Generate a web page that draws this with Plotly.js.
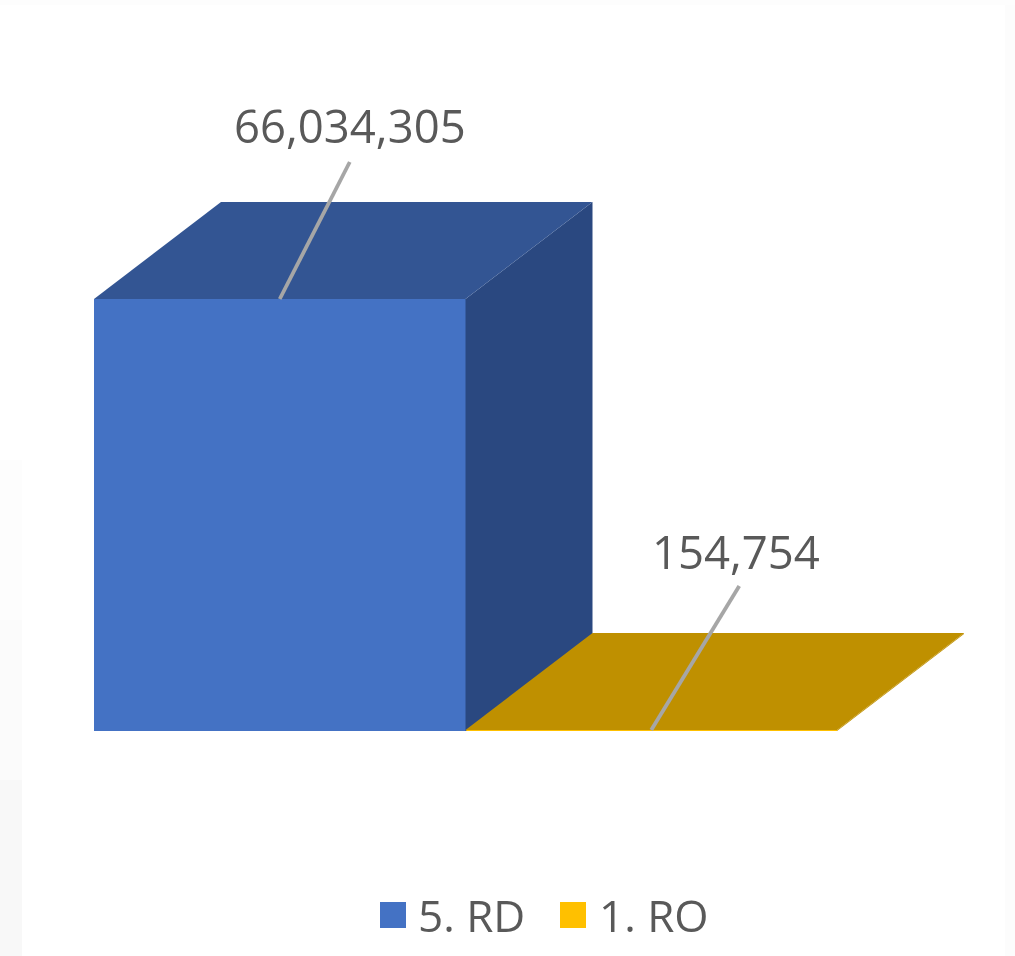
<!DOCTYPE html>
<html>
<head>
<meta charset="utf-8">
<script src="https://cdn.plot.ly/plotly-3.0.1.min.js"></script>
<style>
html,body{margin:0;padding:0;background:#fff;overflow:hidden}
#chart{width:1015px;height:956px;filter:blur(0.75px)}
</style>
</head>
<body>
<div id="chart"></div>
<script>
const categories = ["5. RD", "1. RO"];
const values = [66034305, 154754];
const valueLabels = ["66,034,305", "154,754"];
const frontColors = ["#4472C4", "#FFC000"];
const topColors = ["#335593", "#BF9000"];
const sideColors = ["#2A4880", "#BF9000"];

// page geometry, pixels
const W = 1015, H = 956;
const left0 = 94, barPx = 371.5, basePx = 731, topPx = 299;
const depthPx = [127, 97];
const leaderPx = [[70, 137], [88, 144]];
const labelGapPx = [37, 35];
const labelShiftPx = [0, -3];
const fontFam = '"Open Sans", "Noto Sans", sans-serif';
const textCol = "#595959";

const perPx = values[0] / (basePx - topPx);
const xOf = p => (p - left0) / barPx - 0.5;
const yOf = p => (basePx - p) * perPx;
const dx = depthPx[0] / barPx, dy = depthPx[1] * perPx;

const traces = [{
  type: "bar",
  x: categories.map((_, i) => i),
  y: values,
  width: 1,
  marker: { color: frontColors, line: { width: 0 } },
  hoverinfo: "skip",
  showlegend: false
}];

categories.forEach((c, i) => {
  const l = i - 0.5, r = i + 0.5, v = values[i];
  traces.push({
    type: "scatter", mode: "lines", fill: "toself", name: c + " side",
    x: [r, r + dx, r + dx, r, r], y: [0, dy, v + dy, v, 0],
    fillcolor: sideColors[i], line: { width: 0 }, hoverinfo: "skip", showlegend: false
  });
  traces.push({
    type: "scatter", mode: "lines", fill: "toself", name: c + " top",
    x: [l, l + dx, r + dx, r, l], y: [v, v + dy, v + dy, v, v],
    fillcolor: topColors[i], line: { width: 0 }, hoverinfo: "skip", showlegend: false
  });
});

categories.forEach((c, i) => {
  traces.push({
    type: "scatter", mode: "lines", name: c + " leader",
    x: [i, i + leaderPx[i][0] / barPx],
    y: [values[i], values[i] + leaderPx[i][1] * perPx],
    line: { color: "#A6A6A6", width: 3.8 }, hoverinfo: "skip", showlegend: false
  });
});

// legend keys
const keyX = [393, 573], keyY = 915, keyTextX = [416, 597];
traces.push({
  type: "scatter", mode: "markers",
  x: keyX.map(xOf), y: keyX.map(() => yOf(keyY)),
  marker: { symbol: "square", size: 26, color: frontColors, line: { width: 0 } },
  hoverinfo: "skip", showlegend: false
});

const annotations = categories.map((c, i) => ({
  x: i + (leaderPx[i][0] + labelShiftPx[i]) / barPx,
  y: values[i] + (leaderPx[i][1] + labelGapPx[i]) * perPx,
  text: valueLabels[i], showarrow: false, xanchor: "center", yanchor: "middle",
  font: { family: fontFam, size: 45.5, color: textCol }
})).concat(categories.map((c, i) => ({
  x: xOf(keyTextX[i]), y: yOf(keyY), text: c, showarrow: false,
  xanchor: "left", yanchor: "middle", xshift: 0,
  font: { family: fontFam, size: 44, color: textCol }
})));

const strip = (x0, x1, y0, y1, col) => ({
  type: "rect", xref: "paper", yref: "paper", layer: "below",
  x0: x0 / W, x1: x1 / W, y0: 1 - y1 / H, y1: 1 - y0 / H,
  fillcolor: col, line: { width: 0 }
});

const layout = {
  width: W, height: H,
  margin: { l: 0, r: 0, t: 0, b: 0, pad: 0 },
  paper_bgcolor: "#ffffff", plot_bgcolor: "rgba(0,0,0,0)",
  showlegend: false, bargap: 0,
  xaxis: { range: [xOf(0), xOf(W)], visible: false, fixedrange: true },
  yaxis: { range: [yOf(H), yOf(0)], visible: false, fixedrange: true },
  annotations: annotations,
  shapes: [
    strip(0, 22, 460, 620, "#FDFDFD"),
    strip(0, 22, 620, 780, "#FBFBFB"),
    strip(0, 22, 780, 956, "#F8F8F8"),
    strip(1005, 1015, 0, 956, "#FCFCFC"),
    strip(0, 1015, 0, 5, "#FDFDFD")
  ]
};

Plotly.newPlot("chart", traces, layout, { displayModeBar: false, staticPlot: true });
</script>
</body>
</html>
